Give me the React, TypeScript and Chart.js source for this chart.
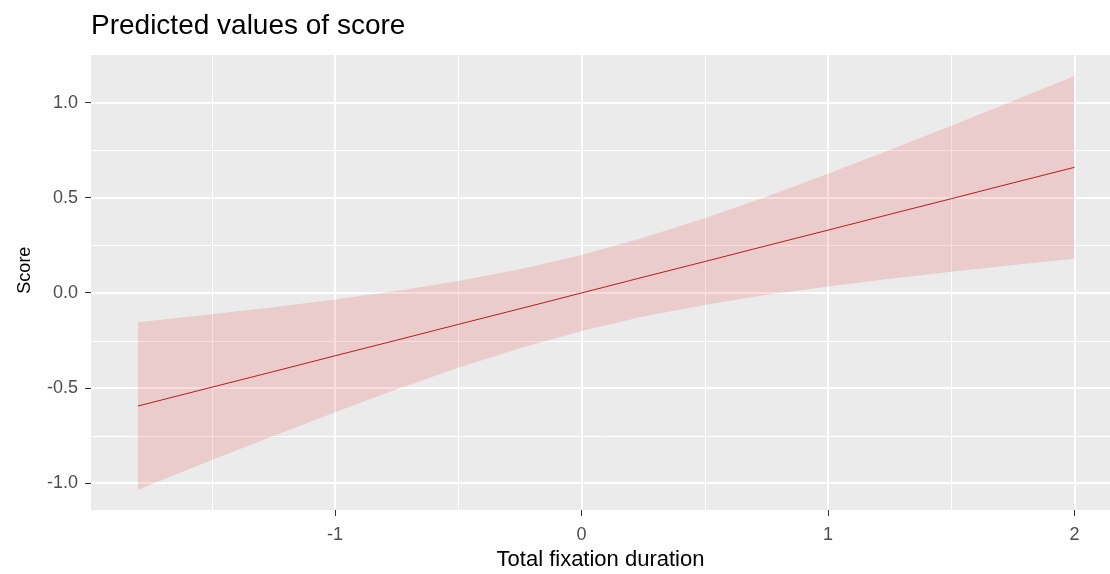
import React, { useEffect, useRef } from "react";
import { Chart, registerables } from "chart.js";

Chart.register(...registerables);

const xValues = [-1.8, -1.5, -1.25, -1, -0.75, -0.5, -0.25, 0, 0.25, 0.5, 0.75, 1, 1.25, 1.5, 1.75, 2];
const predicted = [-0.594, -0.495, -0.413, -0.33, -0.248, -0.165, -0.083, 0, 0.083, 0.165, 0.248, 0.33, 0.413, 0.495, 0.578, 0.66];
const upperCI = [-0.154, -0.112, -0.075, -0.034, 0.01, 0.063, 0.124, 0.2, 0.29, 0.393, 0.506, 0.626, 0.751, 0.878, 1.009, 1.14];
const lowerCI = [-1.034, -0.878, -0.751, -0.626, -0.506, -0.393, -0.29, -0.2, -0.124, -0.063, -0.01, 0.034, 0.075, 0.112, 0.147, 0.18];

const xTicks = [-1, 0, 1, 2];
const xTickLabels = ["-1", "0", "1", "2"];
const xMinor = [-1.5, -0.5, 0.5, 1.5];
const yTicks = [-1, -0.5, 0, 0.5, 1];
const yTickLabels = ["-1.0", "-0.5", "0.0", "0.5", "1.0"];
const yMinor = [-0.75, -0.25, 0.25, 0.75];

const chartTitle = "Predicted values of score";
const xTitle = "Total fixation duration";
const yTitle = "Score";

const FONT = "'Liberation Sans', Arial, sans-serif";

const panelPlugin = {
  id: "panel",
  beforeDraw(chart: any) {
    const { ctx, chartArea } = chart;
    const xs = chart.scales.x;
    const ys = chart.scales.y;
    ctx.save();
    ctx.fillStyle = "#EBEBEB";
    ctx.fillRect(chartArea.left, chartArea.top, chartArea.right - chartArea.left, chartArea.bottom - chartArea.top);
    ctx.strokeStyle = "#FFFFFF";
    ctx.lineWidth = 1;
    ctx.beginPath();
    xMinor.forEach((v) => {
      const p = Math.round(xs.getPixelForValue(v)) + 0.5;
      ctx.moveTo(p, chartArea.top);
      ctx.lineTo(p, chartArea.bottom);
    });
    yMinor.forEach((v) => {
      const p = Math.round(ys.getPixelForValue(v)) + 0.5;
      ctx.moveTo(chartArea.left, p);
      ctx.lineTo(chartArea.right, p);
    });
    ctx.stroke();
    ctx.lineWidth = 2;
    ctx.beginPath();
    xTicks.forEach((v) => {
      const p = Math.round(xs.getPixelForValue(v));
      ctx.moveTo(p, chartArea.top);
      ctx.lineTo(p, chartArea.bottom);
    });
    yTicks.forEach((v) => {
      const p = Math.round(ys.getPixelForValue(v));
      ctx.moveTo(chartArea.left, p);
      ctx.lineTo(chartArea.right, p);
    });
    ctx.stroke();

    // chart title
    ctx.fillStyle = "#000000";
    ctx.font = `28px ${FONT}`;
    ctx.textAlign = "left";
    ctx.textBaseline = "alphabetic";
    ctx.fillText(chartTitle, chartArea.left, 34);

    // y axis title
    ctx.font = `18px ${FONT}`;
    ctx.textAlign = "center";
    ctx.textBaseline = "middle";
    ctx.translate(25, ys.getPixelForValue(0.12));
    ctx.rotate(-Math.PI / 2);
    ctx.fillText(yTitle, 0, 0);
    ctx.restore();
  },
};

export default function App() {
  const canvasRef = useRef<HTMLCanvasElement | null>(null);

  useEffect(() => {
    if (!canvasRef.current) return;
    const toPts = (ys: number[]) => xValues.map((x, i) => ({ x, y: ys[i] }));
    const chart = new Chart(canvasRef.current, {
      type: "line",
      data: {
        datasets: [
          {
            label: "lower",
            data: toPts(lowerCI),
            borderWidth: 0,
            pointRadius: 0,
            fill: false,
            borderColor: "rgba(0,0,0,0)",
          },
          {
            label: "upper",
            data: toPts(upperCI),
            borderWidth: 0,
            pointRadius: 0,
            fill: "-1",
            borderColor: "rgba(0,0,0,0)",
            backgroundColor: "rgba(228,26,28,0.15)",
          },
          {
            label: "predicted",
            data: toPts(predicted),
            borderWidth: 1,
            pointRadius: 0,
            fill: false,
            borderColor: "#b31b1e",
          },
        ],
      },
      options: {
        animation: false,
        responsive: false,
        layout: { padding: { top: 55, left: 0, right: 0, bottom: 0 } },
        plugins: {
          legend: { display: false },
          tooltip: { enabled: false },
          title: { display: false },
        },
        scales: {
          x: {
            type: "linear",
            min: -1.99,
            max: 2.144,
            afterFit: (s: any) => {
              s.height = 64;
            },
            afterBuildTicks: (s: any) => {
              s.ticks = xTicks.map((v) => ({ value: v }));
            },
            ticks: {
              autoSkip: false,
              maxRotation: 0,
              padding: 8,
              color: "#4D4D4D",
              font: { family: FONT, size: 18 },
              callback: (v: any) => {
                const i = xTicks.indexOf(Number(v));
                return i >= 0 ? xTickLabels[i] : "";
              },
            },
            grid: {
              drawOnChartArea: false,
              drawTicks: true,
              tickLength: 6,
              tickColor: "#333333",
              tickWidth: 1,
            },
            border: { display: false },
            title: {
              display: true,
              text: xTitle,
              color: "#000000",
              font: { family: FONT, size: 22 },
              padding: { top: 0, bottom: 1 },
            },
          },
          y: {
            type: "linear",
            min: -1.14,
            max: 1.25,
            afterFit: (s: any) => {
              s.width = 91;
            },
            afterBuildTicks: (s: any) => {
              s.ticks = yTicks.map((v) => ({ value: v }));
            },
            ticks: {
              autoSkip: false,
              padding: 7,
              color: "#4D4D4D",
              font: { family: FONT, size: 18 },
              callback: (v: any) => {
                const i = yTicks.indexOf(Number(v));
                return i >= 0 ? yTickLabels[i] : "";
              },
            },
            grid: {
              drawOnChartArea: false,
              drawTicks: true,
              tickLength: 6,
              tickColor: "#333333",
              tickWidth: 1,
            },
            border: { display: false },
            title: { display: false },
          },
        },
      },
      plugins: [panelPlugin],
    });
    return () => chart.destroy();
  }, []);

  return (
    <div style={{ position: "fixed", left: 0, top: 0, width: 1110, height: 574, background: "#FFFFFF" }}>
      <canvas ref={canvasRef} width={1110} height={574} />
    </div>
  );
}
